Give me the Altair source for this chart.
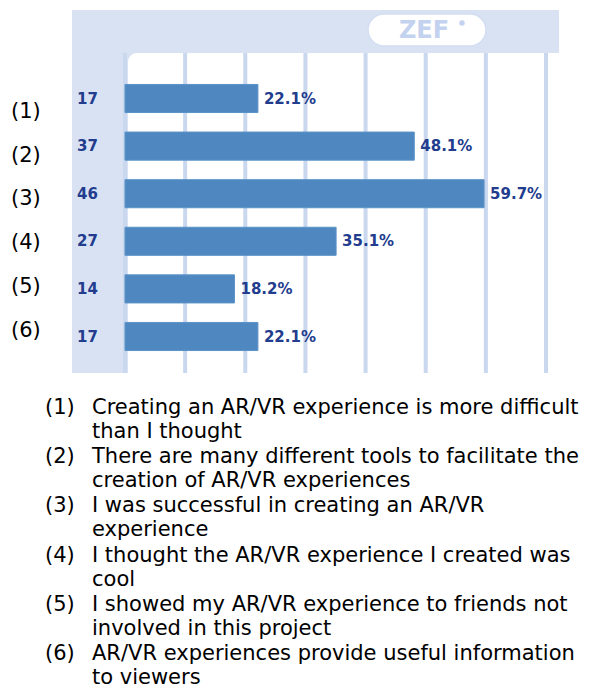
import altair as alt
import pandas as pd

labels = ["(1)", "(2)", "(3)", "(4)", "(5)", "(6)"]
counts = [17, 37, 46, 27, 14, 17]
percents = [22.1, 48.1, 59.7, 35.1, 18.2, 22.1]
statements = [
    "Creating an AR/VR experience is more difficult\nthan I thought",
    "There are many different tools to facilitate the\ncreation of AR/VR experiences",
    "I was successful in creating an AR/VR\nexperience",
    "I thought the AR/VR experience I created was\ncool",
    "I showed my AR/VR experience to friends not\ninvolved in this project",
    "AR/VR experiences provide useful information\nto viewers",
]
grid_ticks = [0, 10, 20, 30, 40, 50, 60, 70]

LIGHT = "#D9E2F3"
GRID = "#C9D7EF"
BAR = "#4F88C0"
NAVY = "#223C8E"
LOGO = "#C3D2EE"

df = pd.DataFrame({"label": labels, "count": counts, "pct": percents,
                   "pct_text": [f"{p:.1f}%" for p in percents],
                   "statement": statements})
grid_df = pd.DataFrame({"t": grid_ticks})
one = pd.DataFrame({"a": [0]})

xscale = alt.Scale(domain=[0, 70], range=[117, 538])
yband = alt.Scale(domain=labels, range=[66.7, 352.3], paddingInner=0.41, paddingOuter=0.205)
yleft = alt.Scale(domain=labels, range=[103.7, 322.7], padding=0)
ylist = alt.Scale(domain=labels, range=[406, 652], padding=0)

base = alt.Chart(df)

header = alt.Chart(one).mark_rect(color=LIGHT).encode(
    x=alt.value(64), x2=alt.value(551), y=alt.value(2), y2=alt.value(60))
leftcol = alt.Chart(one).mark_rect(color=LIGHT).encode(
    x=alt.value(64), x2=alt.value(121), y=alt.value(2), y2=alt.value(365))
white = alt.Chart(one).mark_rect(color="white", cornerRadiusTopLeft=9).encode(
    x=alt.value(120), x2=alt.value(551), y=alt.value(45), y2=alt.value(365))

grid = alt.Chart(grid_df).mark_rule(color=GRID, strokeWidth=4).encode(
    x=alt.X("t:Q", scale=xscale, axis=None), y=alt.value(45), y2=alt.value(365))

pill = alt.Chart(one).mark_rect(color="white", stroke="#D3DEF2", strokeWidth=1.5,
                                cornerRadius=16).encode(
    x=alt.value(360), x2=alt.value(478), y=alt.value(6), y2=alt.value(38))
logo = alt.Chart(one).mark_text(text="ZEF", color=LOGO, fontSize=24, fontWeight="bold",
                                font="DejaVu Sans", align="center", baseline="middle").encode(
    x=alt.value(416), y=alt.value(23))
dot = alt.Chart(one).mark_point(filled=True, color=LOGO, size=30, opacity=1).encode(
    x=alt.value(454), y=alt.value(15))

bars = base.mark_bar(color=BAR, stroke="#5B93C8", strokeWidth=1).encode(
    x=alt.X("pct:Q", scale=xscale, axis=None),
    y=alt.Y("label:N", scale=yband, axis=None))
pct_txt = base.mark_text(align="left", baseline="middle", dx=6, fontSize=15,
                         fontWeight="bold", font="DejaVu Sans", color=NAVY).encode(
    x=alt.X("pct:Q", scale=xscale, axis=None),
    y=alt.Y("label:N", scale=yband, axis=None),
    text="pct_text:N")
cnt_txt = base.mark_text(align="left", baseline="middle", fontSize=15,
                         fontWeight="bold", font="DejaVu Sans", color=NAVY).encode(
    x=alt.value(69),
    y=alt.Y("label:N", scale=yband, axis=None),
    text="count:Q")
left_lbl = base.mark_text(align="left", baseline="middle", fontSize=21,
                          font="DejaVu Sans", color="black").encode(
    x=alt.value(3),
    y=alt.Y("label:N", scale=yleft, axis=None),
    text="label:N")
list_num = base.mark_text(align="left", baseline="alphabetic", fontSize=21,
                          font="DejaVu Sans", color="black").encode(
    x=alt.value(37),
    y=alt.Y("label:N", scale=ylist, axis=None),
    text="label:N")
list_txt = base.mark_text(align="left", baseline="alphabetic", fontSize=21, lineBreak="\n",
                          lineHeight=24, font="DejaVu Sans", color="black").encode(
    x=alt.value(84),
    y=alt.Y("label:N", scale=ylist, axis=None),
    text="statement:N")

chart = alt.layer(
    header, leftcol, white, grid, pill, logo, dot,
    bars, pct_txt, cnt_txt, left_lbl, list_num, list_txt
).resolve_scale(y="independent").properties(
    width=578, height=682,
    autosize=alt.AutoSizeParams(type="none"),
    padding=0, background="white"
).configure_view(stroke=None)

chart.save("out.html", embed_options={"renderer": "svg", "actions": False})
